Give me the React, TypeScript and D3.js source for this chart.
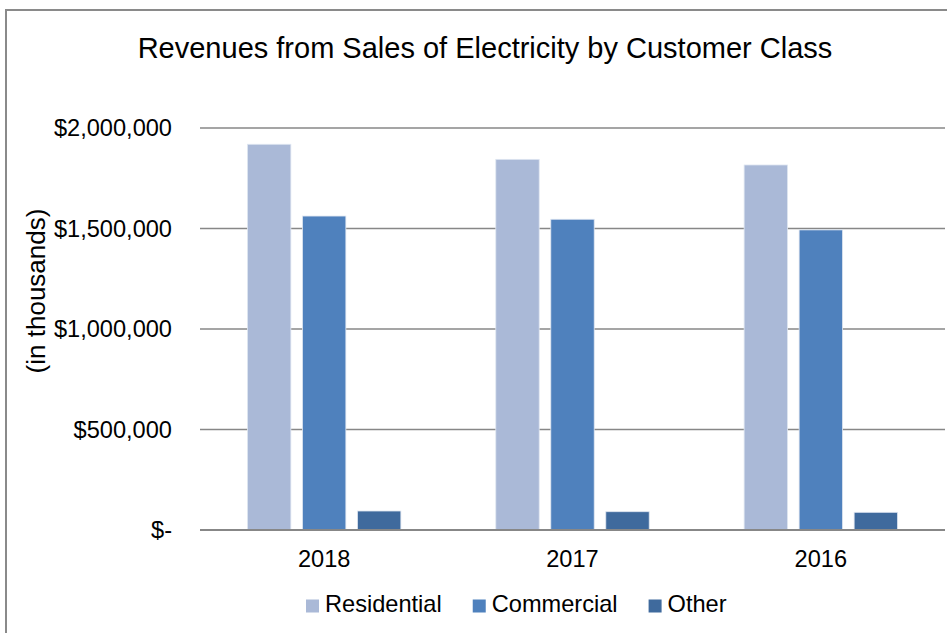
import { useEffect, useRef } from 'react';
import * as d3 from 'd3';

const years = ['2018', '2017', '2016'];
const seriesNames = ['Residential', 'Commercial', 'Other'];
const residential = [1919000, 1844000, 1816000];
const commercial = [1562000, 1546000, 1493000];
const other = [94500, 91000, 88000];
const yTicks = [0, 500000, 1000000, 1500000, 2000000];

const colors = ['#AAB9D7', '#4F81BD', '#3F6A9D'];
const FONT = '"Liberation Sans", Arial, sans-serif';

export default function App() {
  const ref = useRef<SVGSVGElement | null>(null);

  useEffect(() => {
    const svg = d3.select(ref.current);
    svg.selectAll('*').remove();

    const W = 947;
    const H = 633;
    const plot = { left: 200, right: 945, top: 128, bottom: 530 };

    // outer chart frame (runs off the right and bottom edges)
    svg.append('rect')
      .attr('x', 6)
      .attr('y', 10)
      .attr('width', W + 20)
      .attr('height', H + 20)
      .attr('fill', 'white')
      .attr('stroke', '#8a8a8a')
      .attr('stroke-width', 2);

    const x0 = d3.scaleBand<string>()
      .domain(years)
      .range([plot.left, plot.right])
      .paddingInner(0)
      .paddingOuter(0);

    const innerW = 153.4;
    const x1 = d3.scaleBand<string>()
      .domain(seriesNames)
      .range([0, innerW])
      .paddingInner(0.211)
      .paddingOuter(0);

    const y = d3.scaleLinear()
      .domain([0, 2000000])
      .range([plot.bottom, plot.top]);

    // gridlines
    svg.append('g')
      .selectAll('line')
      .data(yTicks)
      .join('line')
      .attr('x1', plot.left)
      .attr('x2', plot.right)
      .attr('y1', d => y(d))
      .attr('y2', d => y(d))
      .attr('stroke', '#878787')
      .attr('stroke-width', d => (d === 0 ? 2 : 1.6));

    // y tick labels
    const fmt = d3.format(',');
    svg.append('g')
      .selectAll('text')
      .data(yTicks)
      .join('text')
      .attr('x', 172)
      .attr('y', d => y(d))
      .attr('dy', '0.35em')
      .attr('text-anchor', 'end')
      .attr('font-family', FONT)
      .attr('font-size', 23.6)
      .attr('fill', '#000')
      .text(d => (d === 0 ? '$-' : `$${fmt(d)}`));

    // bars
    const seriesValues = [residential, commercial, other];
    const groups = svg.append('g')
      .selectAll('g')
      .data(years)
      .join('g')
      .attr('transform', d => `translate(${x0(d)! + (x0.bandwidth() - innerW) / 2},0)`);

    groups.selectAll('rect')
      .data((_, i) => seriesNames.map((s, k) => ({ s, k, v: seriesValues[k][i] })))
      .join('rect')
      .attr('x', d => x1(d.s)!)
      .attr('width', x1.bandwidth())
      .attr('y', d => y(d.v))
      .attr('height', d => y(0) - y(d.v))
      .attr('fill', d => colors[d.k])
      .attr('stroke', '#dfe6f1')
      .attr('stroke-width', 0.8);

    // redraw baseline on top of bars
    svg.append('line')
      .attr('x1', plot.left)
      .attr('x2', plot.right)
      .attr('y1', y(0))
      .attr('y2', y(0))
      .attr('stroke', '#878787')
      .attr('stroke-width', 2);

    // x labels
    svg.append('g')
      .selectAll('text')
      .data(years)
      .join('text')
      .attr('x', d => x0(d)! + x0.bandwidth() / 2)
      .attr('y', 566.5)
      .attr('text-anchor', 'middle')
      .attr('font-family', FONT)
      .attr('font-size', 23.6)
      .attr('fill', '#000')
      .text(d => d);

    // title
    svg.append('text')
      .attr('x', 485)
      .attr('y', 58)
      .attr('text-anchor', 'middle')
      .attr('font-family', FONT)
      .attr('font-size', 29)
      .attr('fill', '#000')
      .text('Revenues from Sales of Electricity by Customer Class');

    // y axis title
    svg.append('text')
      .attr('transform', 'translate(45,291) rotate(-90)')
      .attr('text-anchor', 'middle')
      .attr('font-family', FONT)
      .attr('font-size', 26)
      .attr('fill', '#000')
      .text('(in thousands)');

    // legend
    const legend = svg.append('g');
    let lx = 306;
    seriesNames.forEach((name, k) => {
      legend.append('rect')
        .attr('x', lx)
        .attr('y', 599.5)
        .attr('width', 13)
        .attr('height', 13)
        .attr('fill', colors[k]);
      const t = legend.append('text')
        .attr('x', lx + 19)
        .attr('y', 612)
        .attr('font-family', FONT)
        .attr('font-size', 23.6)
        .attr('fill', '#000')
        .text(name);
      const len = (t.node() as SVGTextElement).getComputedTextLength();
      lx = lx + 19 + len + 31;
    });
  }, []);

  return (
    <svg
      ref={ref}
      width={947}
      height={633}
      style={{ position: 'absolute', left: 0, top: 0, background: 'white' }}
    />
  );
}
